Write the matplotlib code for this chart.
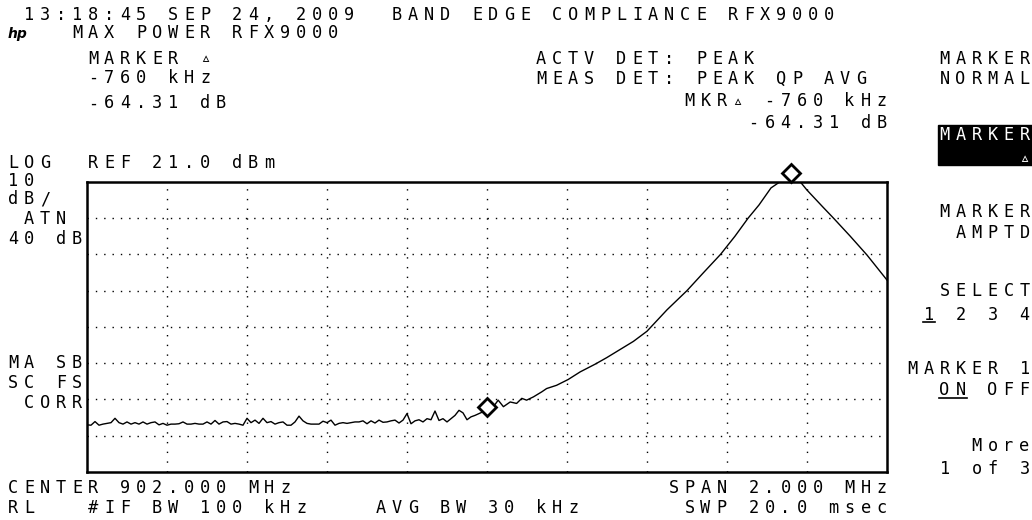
import matplotlib.pyplot as plt
import matplotlib.patches as mpatches
import numpy as np

# sweep data (MHz / dBm)
noise_dbm = [
    -46.0, -46.1, -45.1, -46.1, -45.8, -45.6, -45.4, -44.2, -45.4, -45.8,
    -45.2, -45.8, -45.4, -45.8, -45.2, -45.8, -45.4, -45.2, -46.0, -45.6,
    -46.1, -45.8, -45.8, -45.7, -45.2, -45.8, -45.8, -45.6, -45.8, -45.8,
    -45.2, -45.8, -44.8, -45.8, -45.2, -45.1, -45.8, -45.6, -45.8, -46.1,
    -44.2, -45.4, -44.7, -45.6, -44.2, -45.4, -45.1, -45.8, -45.4, -45.2,
    -46.1, -46.1, -45.2, -43.6, -44.9, -45.6, -45.8, -45.8, -45.8, -45.0,
    -45.4, -44.7, -46.1, -45.6, -45.4, -45.6, -45.4, -45.2, -45.2, -44.9,
    -45.7, -44.9, -45.5, -44.7, -45.3, -45.2, -44.9, -44.7, -45.5, -44.7,
    -42.9, -45.7, -44.9, -44.6, -45.2, -44.3, -44.6, -42.2, -44.8, -44.3,
    -45.2, -44.3, -43.4, -42.0, -42.7, -44.6, -43.8, -43.4, -42.9, -42.4,
]
noise_mhz = np.linspace(901.0, 901.99, len(noise_dbm))

rise_mhz = [902.00, 902.016, 902.028, 902.041, 902.058, 902.074, 902.087, 902.099,
            902.116, 902.137, 902.149, 902.174, 902.203, 902.233, 902.27, 902.299,
            902.333, 902.366, 902.40, 902.45, 902.50, 902.54, 902.584, 902.62,
            902.653, 902.68, 902.71, 902.73, 902.75, 902.76, 902.77, 902.78,
            902.80, 902.84, 902.866, 902.908, 902.95, 903.0]
rise_dbm = [-41.0, -41.0, -39.2, -41.0, -39.7, -40.1, -38.7, -39.2,
            -38.3, -36.9, -36.0, -35.1, -33.5, -31.4, -29.3, -27.5,
            -25.2, -23.0, -20.2, -14.3, -9.0, -4.2, 1.0, 6.0,
            11.0, 14.6, 19.3, 20.8, 22.6, 23.3, 22.8, 21.4,
            18.7, 14.0, 11.0, 6.0, 0.8, -6.1]

center_mhz = 902.0
span_mhz = 2.0
ref_dbm = 21.0
db_per_div = 10
peak = (902.76, 23.3)
delta = (-0.760, -64.31)

W, H = 1032, 520
PITCH = 16.0
FS = 12.2
MONO = ['DejaVu Sans Mono', 'DejaVu Sans']

fig = plt.figure(figsize=(W / 100, H / 100), dpi=100, facecolor='white')

# screen overlay in pixel coords for all the annotation text
tx = fig.add_axes([0, 0, 1, 1])
tx.set_xlim(0, W)
tx.set_ylim(H, 0)
tx.axis('off')


def put(x, yc, s, color='black'):
    # fixed pitch like the analyzer's character generator
    for i, ch in enumerate(s):
        if ch != ' ':
            tx.text(x + i * PITCH, yc + 6, ch, ha='left', va='baseline',
                    family=MONO, fontsize=FS, color=color)


def put_r(xr, yc, s, color='black'):
    put(xr - 10.5 - (len(s) - 1) * PITCH, yc, s, color)


put(24, 14, '13:18:45 SEP 24, 2009  BAND EDGE COMPLIANCE RFX9000')
tx.text(8, 38, 'hp', style='italic', fontweight='bold', fontsize=10, family='DejaVu Sans')
put(72, 32, 'MAX POWER RFX9000')
put(88, 57.5, 'MARKER \u25b5')
put(88, 77, '-760 kHz')
put(88, 102.5, '-64.31 dB')

put(536, 57.5, 'ACTV DET: PEAK')
put(536, 78, 'MEAS DET: PEAK QP AVG')
put_r(887, 100, 'MKR\u25b5 -760 kHz')
put_r(887, 122, '-64.31 dB')

# softkeys
put_r(1030, 57.5, 'MARKER')
put_r(1030, 78, 'NORMAL')
tx.add_patch(mpatches.Rectangle((938, 125), 94, 40, color='black'))
put_r(1030, 134, 'MARKER', color='white')
put_r(1030, 157, '\u25b5', color='white')
put_r(1030, 211, 'MARKER')
put_r(1030, 231.5, 'AMPTD')
put_r(1030, 290, 'SELECT')
put_r(1030, 313.5, '1 2 3 4')
x1 = 1030 - 10.5 - 6 * PITCH
tx.plot([x1 - 1, x1 + 11], [322, 322], color='black', lw=1.2)
put_r(1030, 368, 'MARKER 1')
put_r(1030, 389, 'ON OFF')
x_on = 1030 - 10.5 - 5 * PITCH
tx.plot([x_on - 1, x_on + PITCH + 11], [398, 398], color='black', lw=1.2)
put_r(1030, 445, 'More')
put_r(1030, 468.5, '1 of 3')

# left annotations
put(8, 161.5, 'LOG  REF 21.0 dBm')
put(8, 180, '10')
put(8, 198, 'dB/')
put(8, 218.5, ' ATN')
put(8, 238.5, '40 dB')
put(8, 362.5, 'MA SB')
put(8, 382.5, 'SC FS')
put(8, 402.5, ' CORR')
put(8, 487, 'CENTER 902.000 MHz')
put(8, 507, 'RL   #IF BW 100 kHz    AVG BW 30 kHz')
put_r(887, 487, 'SPAN 2.000 MHz')
put_r(887, 507, 'SWP 20.0 msec')

# graticule
left, right, top, bottom = 87, 887, 181.75, 472
ax = fig.add_axes([left / W, (H - bottom) / H, (right - left) / W, (bottom - top) / H])
ax.set_facecolor('white')
x0, x1e = center_mhz - span_mhz / 2, center_mhz + span_mhz / 2
y1 = ref_dbm
y0 = ref_dbm - 8 * db_per_div
ax.set_xlim(x0, x1e)
ax.set_ylim(y0, y1)
ax.set_xticks([])
ax.set_yticks([])
for s in ax.spines.values():
    s.set_linewidth(1.8)

for k in range(1, 10):
    ax.axvline(x0 + k * span_mhz / 10, color='black', lw=1.0, ls=(0, (1, 6)))
for k in range(1, 8):
    ax.axhline(y0 + k * db_per_div, color='black', lw=1.0, ls=(0, (1, 5)))

trace_x = np.concatenate([noise_mhz, rise_mhz])
trace_y = np.concatenate([noise_dbm, rise_dbm])
ax.plot(trace_x, trace_y, color='black', lw=1.0)

ax.plot(peak[0], peak[1], marker='D', ms=9, mfc='white', mec='black', mew=2,
        clip_on=False, zorder=5)
ax.plot(peak[0] + delta[0], peak[1] + delta[1], marker='D', ms=9, mfc='white',
        mec='black', mew=2, clip_on=False, zorder=5)

fig.savefig('out.png', dpi=100, facecolor='white')
